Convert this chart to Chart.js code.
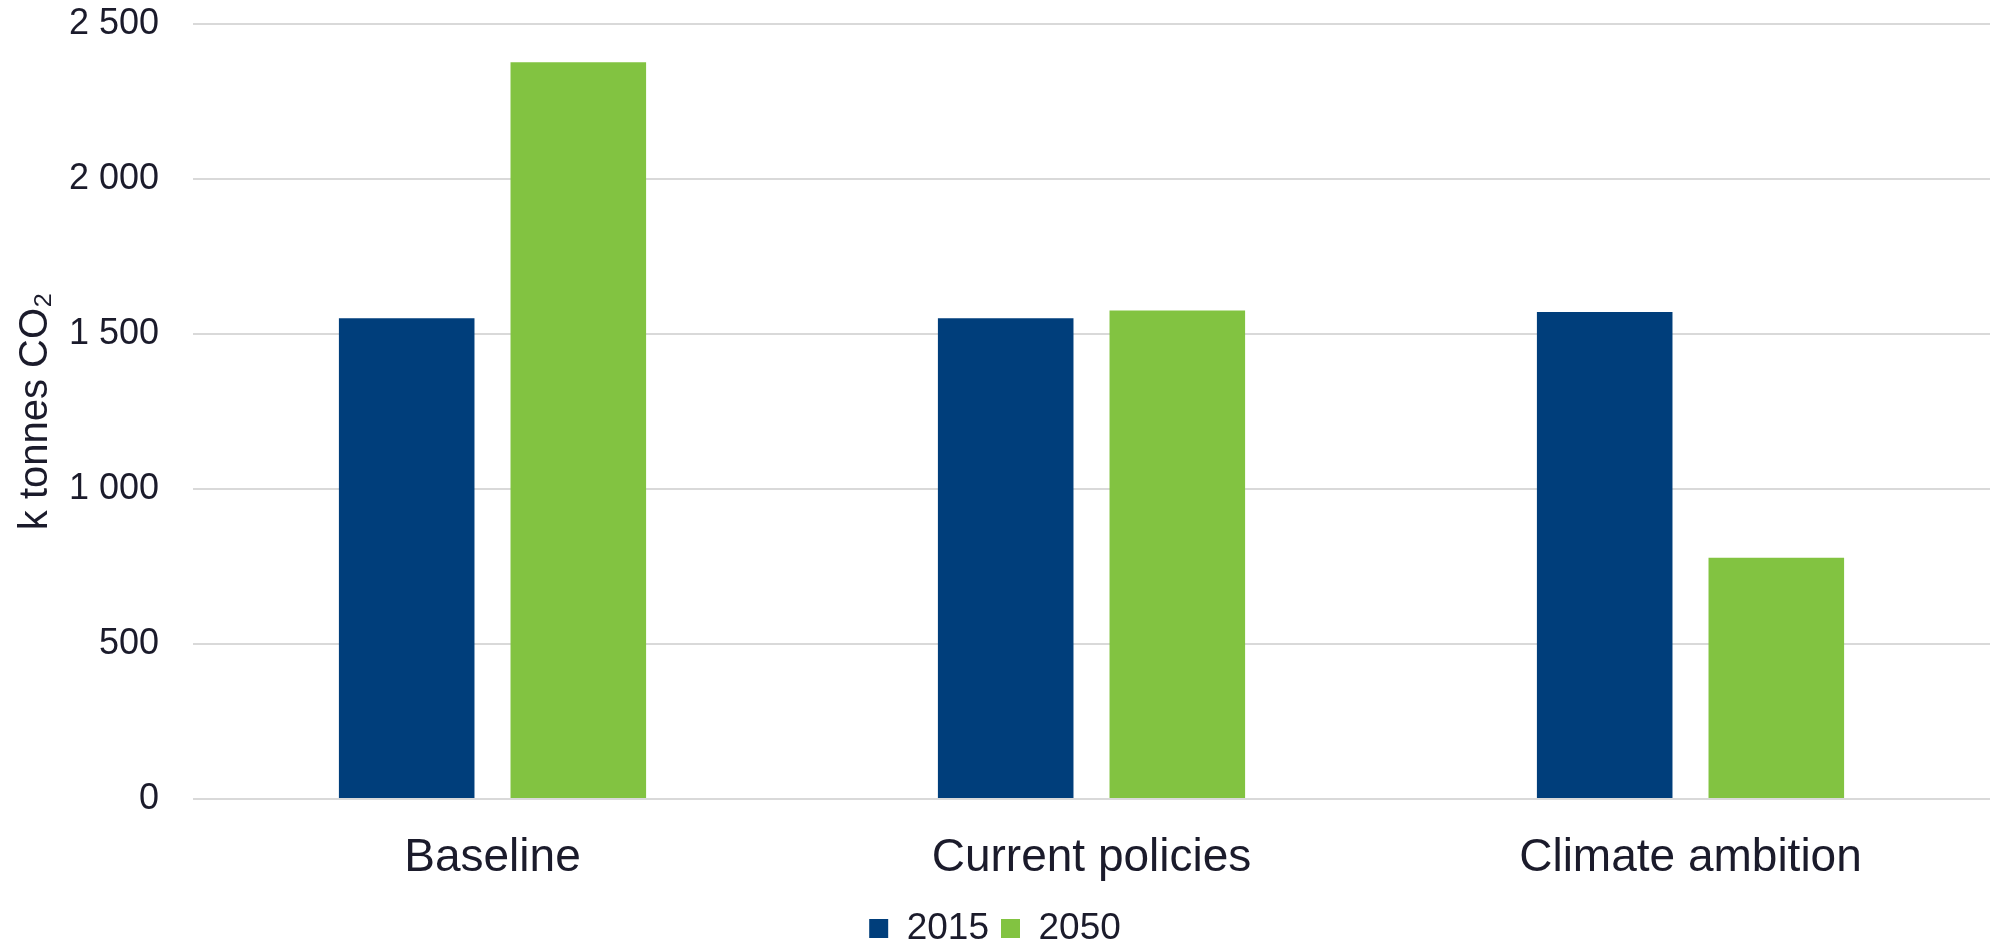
<!DOCTYPE html>
<html>
<head>
<meta charset="utf-8">
<script src="https://cdn.jsdelivr.net/npm/chart.js@4"></script>
<style>
  html, body { margin: 0; padding: 0; background: #ffffff; }
  #wrap { width: 1990px; height: 942px; overflow: hidden; }
  #myChart { display: block; margin-top: -32px; }
</style>
</head>
<body>
<div id="wrap"><canvas id="myChart" width="1990" height="974"></canvas></div>
<script>
// donnees
const categories = ['Baseline', 'Current policies', 'Climate ambition'];
const values2015 = [1550, 1550, 1570];
const values2050 = [2375, 1575, 778];
const yTicks = [0, 500, 1000, 1500, 2000, 2500];

const textColor = '#1b1b2b';
const gridColor = '#d9d9d9';

function spaceThousands(v) {
    return String(v).replace(/\B(?=(\d{3})+(?!\d))/g, ' ');
}

document.addEventListener("DOMContentLoaded", function () {
    const ctx = document.getElementById('myChart').getContext('2d');
    Chart.defaults.font.family = '"Liberation Sans", Arial, sans-serif';
    Chart.defaults.color = textColor;

    const myChart = new Chart(ctx, {
        type: 'bar',
        data: {
            labels: categories,
            datasets: [{
                label: '2015',
                data: values2015,
                backgroundColor: '#003E7B',
                categoryPercentage: 0.573,
                barPercentage: 0.79
            }, {
                label: '2050',
                data: values2050,
                backgroundColor: '#82C341',
                categoryPercentage: 0.573,
                barPercentage: 0.79
            }]
        },
        options: {
            responsive: false,
            animation: false,
            // le canvas depasse de 32px en haut (marge css), et le bas de la legende deborde un peu
            layout: { padding: { top: 0, right: 0, bottom: -15, left: 0 } },
            scales: {
                x: {
                    grid: { display: false },
                    border: { display: false },
                    afterFit: function (scale) { scale.height = 99; },
                    ticks: { font: { size: 46 }, padding: 24, color: textColor }
                },
                y: {
                    min: 0,
                    max: 2500,
                    afterBuildTicks: function (scale) {
                        scale.ticks = yTicks.map(v => ({ value: v }));
                    },
                    afterFit: function (scale) { scale.width = 193; },
                    grid: { color: gridColor, lineWidth: 2, drawTicks: false },
                    border: { display: false },
                    ticks: {
                        font: { size: 36 },
                        padding: 34,
                        color: textColor,
                        callback: function (v) { return spaceThousands(v); }
                    },
                    title: {
                        display: true,
                        text: 'k tonnes CO\u2082',
                        font: { size: 40 },
                        color: textColor,
                        padding: { top: 12, bottom: 0 }
                    }
                }
            },
            plugins: {
                legend: {
                    position: 'bottom',
                    labels: {
                        boxWidth: 19,
                        boxHeight: 19,
                        padding: 12,
                        font: { size: 37 },
                        color: textColor
                    }
                },
                tooltip: { enabled: false }
            }
        }
    });
});
</script>
</body>
</html>
